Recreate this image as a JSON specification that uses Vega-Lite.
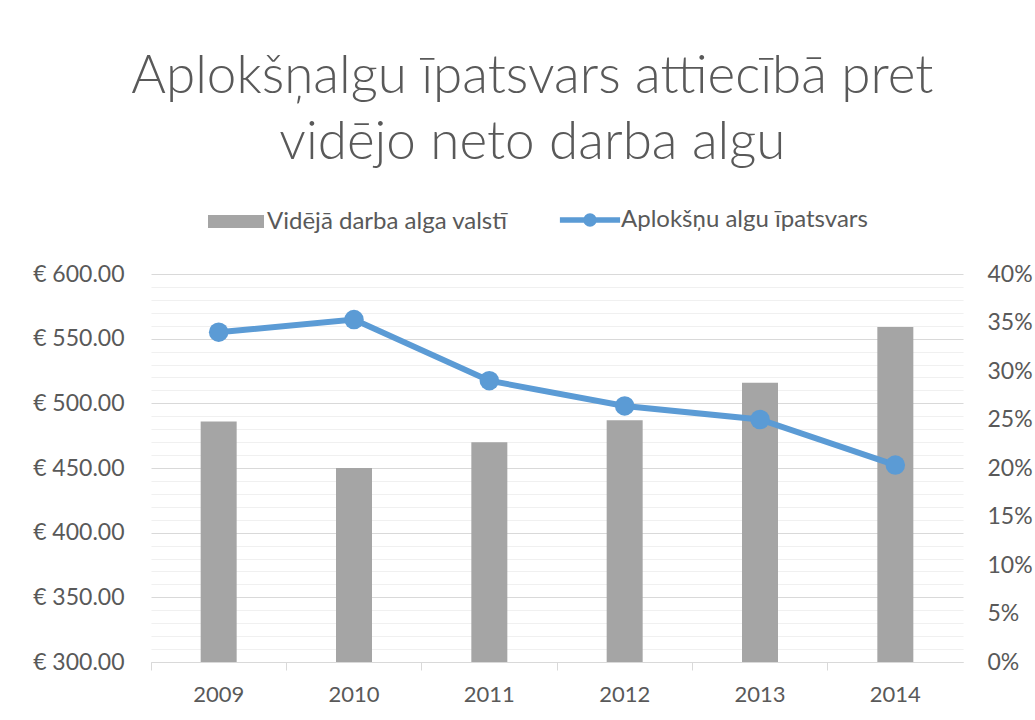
{
  "$schema": "https://vega.github.io/schema/vega-lite/v6.json",
  "width": 812,
  "height": 388,
  "autosize": {"type": "none"},
  "padding": {"left": 151, "top": 274, "right": 72, "bottom": 58},
  "background": "white",
  "title": {
    "text": ["Aplokšņalgu īpatsvars attiecībā pret", "vidējo neto darba algu"],
    "anchor": "middle",
    "frame": "bounds",
    "font": "Lato",
    "fontWeight": 300,
    "fontSize": 53,
    "lineHeight": 66,
    "color": "#595959",
    "offset": 38
  },
  "data": {
    "values": [
      {"year": "2009", "wage": 486, "share": 0.340},
      {"year": "2010", "wage": 450, "share": 0.353},
      {"year": "2011", "wage": 470, "share": 0.290},
      {"year": "2012", "wage": 487, "share": 0.264},
      {"year": "2013", "wage": 516, "share": 0.250},
      {"year": "2014", "wage": 559, "share": 0.203}
    ]
  },
  "encoding": {
    "x": {
      "field": "year",
      "type": "ordinal",
      "scale": {"paddingInner": 0, "paddingOuter": 0},
      "axis": {
        "title": null,
        "labelAngle": 0,
        "labelFont": "Lato",
        "labelFontSize": 22,
        "labelColor": "#595959",
        "labelPadding": 14,
        "domainColor": "#d9d9d9",
        "tickColor": "#d9d9d9",
        "tickSize": 8,
        "bandPosition": 0,
        "grid": false
      }
    }
  },
  "layer": [
    {
      "mark": {"type": "bar", "size": 36, "color": "#a5a5a5"},
      "transform": [{"calculate": "'Vidējā darba alga valstī'", "as": "series"}],
      "encoding": {
        "y": {
          "field": "wage",
          "type": "quantitative",
          "scale": {"domain": [300, 600], "zero": false, "nice": false},
          "axis": {
            "title": null,
            "values": [300,310,320,330,340,350,360,370,380,390,400,410,420,430,440,450,460,470,480,490,500,510,520,530,540,550,560,570,580,590,600],
            "labelExpr": "datum.value % 50 === 0 ? '€ ' + format(datum.value, '.2f') : ''",
            "labelFont": "Lato",
            "labelFontSize": 23,
            "labelColor": "#595959",
            "labelPadding": 27,
            "ticks": false,
            "domain": false,
            "grid": true,
            "gridColor": {"condition": {"test": "datum.value % 50 === 0", "value": "#d9d9d9"}, "value": "#f0f0f0"},
            "gridWidth": 1.2
          }
        },
        "y2": {"datum": 300},
        "color": {
          "field": "series",
          "type": "nominal",
          "scale": {"domain": ["Vidējā darba alga valstī", "Aplokšņu algu īpatsvars"], "range": ["#a5a5a5", "#5b9bd5"]},
          "legend": {
            "title": null,
            "orient": "none",
            "direction": "horizontal",
            "legendX": 73,
            "legendY": -66,
            "labelFont": "Lato",
            "labelFontSize": 24,
            "labelColor": "#595959",
            "labelOffset": 19,
            "labelLimit": 500,
            "columnPadding": 40,
            "symbolSize": 784,
            "padding": 0,
            "encode": {
              "symbols": {
                "update": {
                  "shape": {"signal": "datum.value === 'Vidējā darba alga valstī' ? 'M-2,-0.46H2V0.46H-2Z' : 'M-2.15,0H2.15M0.28,0A0.28,0.28,0,1,1,-0.28,0A0.28,0.28,0,1,1,0.28,0'"},
                  "size": {"value": 784},
                  "fill": {"signal": "datum.value === 'Vidējā darba alga valstī' ? '#a5a5a5' : '#5b9bd5'"},
                  "stroke": {"signal": "datum.value === 'Vidējā darba alga valstī' ? '#a5a5a5' : '#5b9bd5'"},
                  "strokeWidth": {"signal": "datum.value === 'Vidējā darba alga valstī' ? 0 : 5.5"},
                  "opacity": {"value": 1},
                  "fillOpacity": {"value": 1}
                }
              }
            }
          }
        }
      }
    },
    {
      "transform": [{"calculate": "'Aplokšņu algu īpatsvars'", "as": "series"}],
      "mark": {"type": "line", "strokeWidth": 6, "point": {"size": 380, "filled": true, "opacity": 1}},
      "encoding": {
        "y": {
          "field": "share",
          "type": "quantitative",
          "scale": {"domain": [0, 0.4], "nice": false},
          "axis": {
            "orient": "right",
            "title": null,
            "values": [0, 0.05, 0.1, 0.15, 0.2, 0.25, 0.3, 0.35, 0.4],
            "format": ".0%",
            "labelFont": "Lato",
            "labelFontSize": 23,
            "labelColor": "#595959",
            "labelPadding": 24,
            "ticks": false,
            "domain": false,
            "grid": false
          }
        },
        "color": {"field": "series", "type": "nominal"}
      }
    }
  ],
  "resolve": {"scale": {"y": "independent"}},
  "config": {"view": {"stroke": null}}
}
